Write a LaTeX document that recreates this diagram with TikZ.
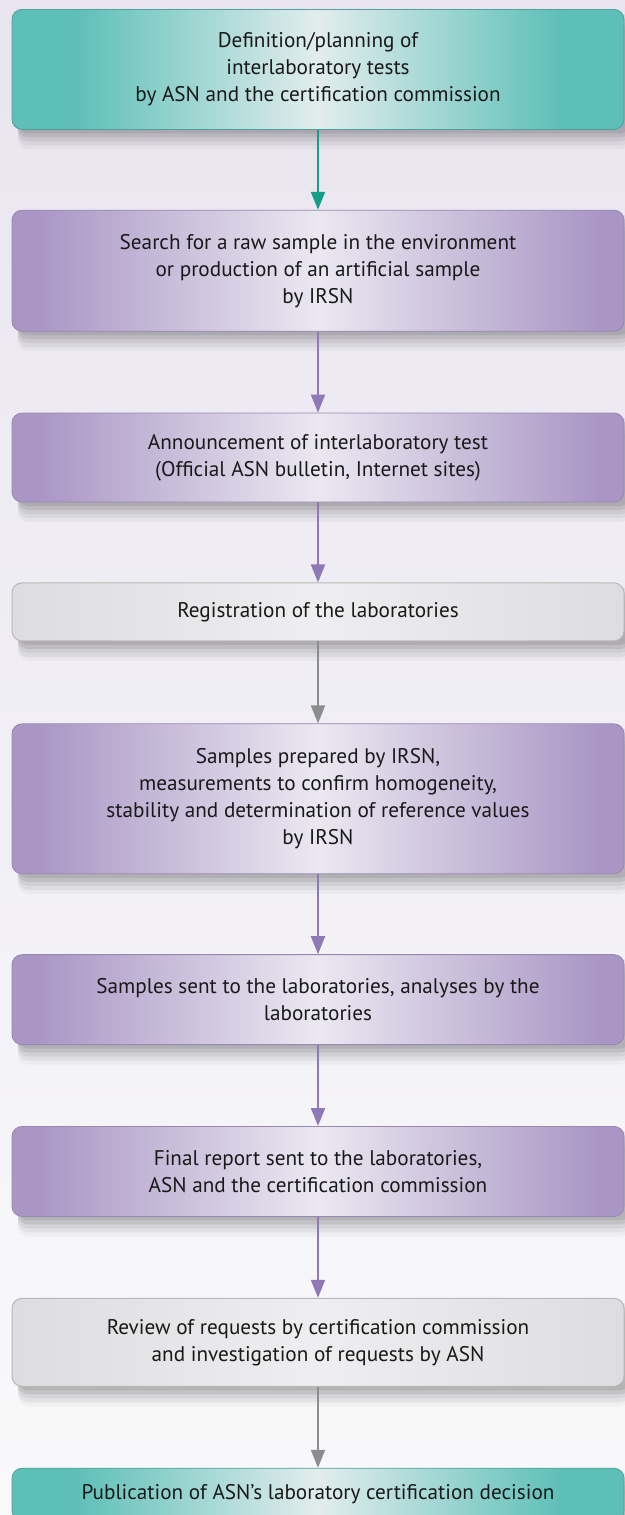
\documentclass[tikz,border=0pt]{standalone}
\usepackage{fontspec}
\setmainfont{PT Sans}
\usepackage{tikz}
\usetikzlibrary{positioning,arrows.meta,shadows}
\definecolor{tealedge}{RGB}{93,191,184}
\definecolor{tealmid}{RGB}{226,237,237}
\definecolor{tealarrow}{RGB}{20,158,138}
\definecolor{purpleedge}{RGB}{169,150,197}
\definecolor{purplemid}{RGB}{235,232,241}
\definecolor{purplearrow}{RGB}{142,120,182}
\definecolor{greyedge}{RGB}{221,221,223}
\definecolor{greymid}{RGB}{238,238,240}
\definecolor{greyarrow}{RGB}{138,142,142}
\definecolor{bgtop}{RGB}{233,229,240}
\definecolor{bgbottom}{RGB}{249,249,250}
\pgfdeclarehorizontalshading{tealfade}{100bp}{color(0bp)=(tealedge); color(30bp)=(tealedge); color(50bp)=(tealmid); color(70bp)=(tealedge); color(100bp)=(tealedge)}
\pgfdeclarehorizontalshading{purplefade}{100bp}{color(0bp)=(purpleedge); color(27bp)=(purpleedge); color(50bp)=(purplemid); color(73bp)=(purpleedge); color(100bp)=(purpleedge)}
\pgfdeclarehorizontalshading{greyfade}{100bp}{color(0bp)=(greyedge); color(25bp)=(greyedge); color(50bp)=(greymid); color(75bp)=(greyedge); color(100bp)=(greyedge)}
\tikzset{
    softshadow/.style={
        drop shadow={shadow xshift=3pt, shadow yshift=-2pt, opacity=0.08, fill=black},
        drop shadow={shadow xshift=3pt, shadow yshift=-4pt, opacity=0.08, fill=black},
        drop shadow={shadow xshift=3pt, shadow yshift=-6pt, opacity=0.06, fill=black},
        drop shadow={shadow xshift=3pt, shadow yshift=-8pt, opacity=0.05, fill=black},
        drop shadow={shadow xshift=3pt, shadow yshift=-10pt, opacity=0.03, fill=black}},
    block/.style={rectangle, rounded corners=5pt, minimum width=306pt, inner sep=0pt, align=center, text=black!90, font=\fontsize{10.6}{13.5}\selectfont, softshadow},
    tealblock/.style={block, shade, shading=tealfade, draw=tealedge!85!black, line width=0.4pt},
    purpleblock/.style={block, shade, shading=purplefade, draw=purpleedge!90!black, line width=0.4pt},
    greyblock/.style={block, shade, shading=greyfade, draw=black!28, line width=0.5pt},
    line/.style={draw, line width=1pt, -{Triangle[length=9pt,width=7pt]}}
}
\begin{document}
\begin{tikzpicture}
    % Background
    \shade [top color=bgtop, bottom color=bgbottom] (0,0) rectangle (312.5pt,-757.5pt);
    \useasboundingbox (0,0) rectangle (312.5pt,-757.5pt);

    % Steps
    \node [tealblock, minimum height=60pt, anchor=north] (def) at (159pt,-4.5pt) {Definition/planning of\\interlaboratory tests\\by ASN and the certification commission};
    \node [purpleblock, minimum height=60.5pt, below=40pt of def] (search) {Search for a raw sample in the environment\\or production of an artificial sample\\by IRSN};
    \node [purpleblock, minimum height=44.5pt, below=40.5pt of search] (announce) {Announcement of interlaboratory test\\(Official ASN bulletin, Internet sites)};
    \node [greyblock, minimum height=29pt, below=40pt of announce] (register) {Registration of the laboratories};
    \node [purpleblock, minimum height=75pt, below=41pt of register] (prepare) {Samples prepared by IRSN,\\measurements to confirm homogeneity,\\stability and determination of reference values\\by IRSN};
    \node [purpleblock, minimum height=45pt, below=40pt of prepare] (analyse) {Samples sent to the laboratories, analyses by the\\laboratories};
    \node [purpleblock, minimum height=45pt, below=40.5pt of analyse] (report) {Final report sent to the laboratories,\\ASN and the certification commission};
    \node [greyblock, minimum height=44pt, below=40.5pt of report] (review) {Review of requests by certification commission\\and investigation of requests by ASN};
    \node [tealblock, minimum height=26pt, below=40.5pt of review] (publish) {Publication of ASN's laboratory certification decision};

    % Connections
    \path [line, tealarrow] (def) -- (search);
    \path [line, purplearrow] (search) -- (announce);
    \path [line, purplearrow] (announce) -- (register);
    \path [line, greyarrow] (register) -- (prepare);
    \path [line, purplearrow] (prepare) -- (analyse);
    \path [line, purplearrow] (analyse) -- (report);
    \path [line, purplearrow] (report) -- (review);
    \path [line, greyarrow] (review) -- (publish);
\end{tikzpicture}
\end{document}
